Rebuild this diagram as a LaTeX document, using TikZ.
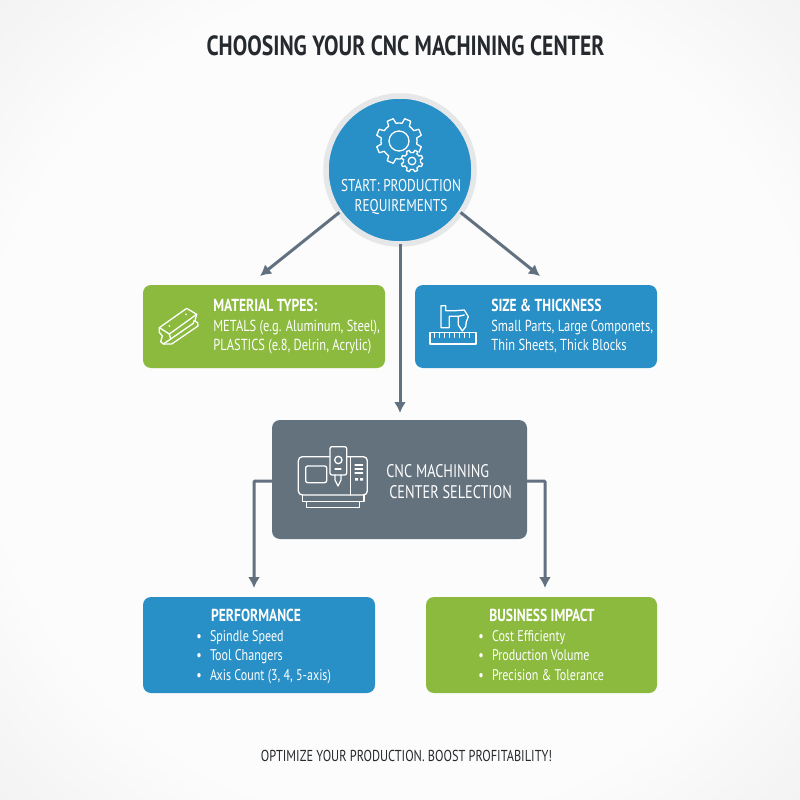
\documentclass[tikz,border=0pt]{standalone}
\usepackage{fontspec}
\setmainfont[FakeStretch=0.78]{PT Sans}
\usetikzlibrary{arrows.meta}
\def\px{0.02cm}
\definecolor{cncblue}{RGB}{40,143,199}
\definecolor{cncgreen}{RGB}{139,186,62}
\definecolor{cncgray}{RGB}{100,114,126}
\definecolor{cncline}{RGB}{98,113,127}
\definecolor{cncring}{RGB}{230,231,232}
\definecolor{cncink}{RGB}{38,42,46}
\pgfdeclareradialshading{pagebg}{\pgfpoint{0cm}{0cm}}{color(0cm)=(black!1);color(0.9cm)=(black!1);color(1.45cm)=(black!7)}
\tikzset{
  cardbox/.style={rounded corners=8*\px,outer sep=0pt,inner sep=0pt},
  bluebox/.style={cardbox,fill=cncblue},
  greenbox/.style={cardbox,fill=cncgreen},
  graybox/.style={cardbox,fill=cncgray},
  flowline/.style={draw=cncline,line width=3*\px,-{Latex[length=11*\px,width=12*\px]}},
  elbowline/.style={flowline,rounded corners=1*\px},
  iconline/.style={draw=white,line width=1.3*\px,line join=round,line cap=round},
  cardtext/.style={text=white,inner sep=0pt,font=\fontsize{9.1}{10.7}\selectfont,align=left},
  listtext/.style={text=white,inner sep=0pt,font=\fontsize{8.8}{11.1}\selectfont,align=left},
  cardhead/.style={text=white,inner sep=0pt,font=\fontsize{9.9}{12}\selectfont\bfseries},
}
% gear outline: cx, cy, outer radius, root radius, hole radius, teeth
\newcommand{\gearicon}[6]{
  \pgfmathsetmacro{\gearstep}{360/#6}
  \fill[cncblue] (#1,#2) circle ({#3});
  \draw[iconline] (#1,#2) ++(0:#4)
    \foreach \tooth in {1,...,#6}{
      -- ({#1+#4*cos((\tooth-1)*\gearstep+0.22*\gearstep)},{#2+#4*sin((\tooth-1)*\gearstep+0.22*\gearstep)})
      -- ({#1+#3*cos((\tooth-1)*\gearstep+0.32*\gearstep)},{#2+#3*sin((\tooth-1)*\gearstep+0.32*\gearstep)})
      -- ({#1+#3*cos((\tooth-1)*\gearstep+0.68*\gearstep)},{#2+#3*sin((\tooth-1)*\gearstep+0.68*\gearstep)})
      -- ({#1+#4*cos((\tooth-1)*\gearstep+0.78*\gearstep)},{#2+#4*sin((\tooth-1)*\gearstep+0.78*\gearstep)})
      -- ({#1+#4*cos(\tooth*\gearstep)},{#2+#4*sin(\tooth*\gearstep)})
    } -- cycle;
  \draw[iconline] (#1,#2) circle ({#5});
}
\begin{document}
\begin{tikzpicture}[x=0.02cm,y=-0.02cm]
\shade[shading=pagebg] (0,0) rectangle (800,800);
\useasboundingbox (0,0) rectangle (800,800);

% title and footer
\node[inner sep=0pt,text=cncink,font=\fontsize{15.8}{18}\selectfont\bfseries] (title) at (405.5,46) {CHOOSING YOUR CNC MACHINING CENTER};
\node[inner sep=0pt,text=cncink,font=\fontsize{9}{12}\selectfont] (footer) at (406.5,756) {OPTIMIZE YOUR PRODUCTION. BOOST PROFITABILITY!};

% start circle
\node[circle,fill=cncblue,draw=cncring,line width=5.5*\px,minimum size=148*\px,inner sep=0pt,outer sep=0pt] (start) at (400,170) {};
\gearicon{399}{141}{23}{18}{10}{8}
\gearicon{412}{161}{11}{8.5}{3.8}{8}
\node[inner sep=0pt,text=white,align=center,font=\fontsize{9.7}{11.4}\selectfont] (starttext) at (401,197) {START: PRODUCTION\\REQUIREMENTS};

% cards
\node[greenbox,minimum width=242*\px,minimum height=83*\px] (material) at (264,326.5) {};
\node[bluebox,minimum width=242*\px,minimum height=83*\px] (sizebox) at (536,326.5) {};
\node[graybox,minimum width=255*\px,minimum height=119*\px] (center) at (399.5,479.5) {};
\node[bluebox,minimum width=232*\px,minimum height=96*\px] (perf) at (259,645) {};
\node[greenbox,minimum width=231*\px,minimum height=96*\px] (business) at (541.5,645) {};

% card texts
\node[cardhead,anchor=west] (materialhead) at (213,305) {MATERIAL TYPES:};
\node[cardtext,anchor=north west] (materialtext) at (213,320) {METALS (e.g. Aluminum, Steel),\\PLASTICS (e.8, Delrin, Acrylic)};
\node[cardhead,anchor=west] (sizehead) at (491,305) {SIZE \& THICKNESS};
\node[cardtext,anchor=north west] (sizetext) at (491,319.5) {Small Parts, Large Componets,\\Thin Sheets, Thick Blocks};
\node[inner sep=0pt,text=white,align=left,anchor=west,font=\fontsize{10.4}{11.6}\selectfont] (centertext) at (386,481.5) {CNC MACHINING\\\hspace*{0.06cm}CENTER SELECTION};
\node[cardhead] (perfhead) at (256,615) {PERFORMANCE};
\node[listtext,anchor=north west] (perftext) at (196,630) {\textbullet\hspace{0.1cm} Spindle Speed\\\textbullet\hspace{0.1cm} Tool Changers\\\textbullet\hspace{0.1cm} Axis Count (3, 4, 5-axis)};
\node[cardhead] (busihead) at (542,615) {BUSINESS IMPACT};
\node[listtext,anchor=north west] (busitext) at (478,630) {\textbullet\hspace{0.1cm} Cost Efficienty\\\textbullet\hspace{0.1cm} Production Volume\\\textbullet\hspace{0.1cm} Precision \& Tolerance};

% connectors
\coordinate (materialtop) at (260,276);
\coordinate (sizetop) at (540,276);
\coordinate (centertop) at (400,413);
\coordinate (perftop) at (254,588);
\coordinate (busitop) at (545,588);
\draw[flowline] (start.215) -- (materialtop);
\draw[flowline] (start.325) -- (sizetop);
\draw[flowline] (start.south) -- (centertop);
\draw[elbowline] (center.west |- 0,481) -| (perftop);
\draw[elbowline] (center.east |- 0,481) -| (busitop);

% beam icon
\begin{scope}[shift={(130,275)},scale=1/3]
\draw[iconline] (88,158) -- (170,100) -- (200,118) -- (118,177) -- cycle;
\draw[iconline] (118,177) -- (122,192) -- (100,207) -- (92,200) -- (97,183) -- (88,172) -- (88,158);
\draw[iconline] (122,192) -- (190,145) -- (192,137) -- (203,143) -- (204,153) -- (125,207) -- (100,207);
\draw[iconline] (200,118) -- (195,137);
\fill[white] (118,153) circle (3) (168,118) circle (3);
\end{scope}

% machine and ruler icon
\begin{scope}[shift={(405,275)},scale=1/3]
\draw[iconline] (75,172) rectangle (213,207);
\foreach \tick in {88,103,...,200}{
  \draw[iconline] (\tick,175) -- (\tick,187);
}
\draw[iconline] (108,92) -- (108,158) -- (133,158) -- (133,124) -- (160,124) -- (160,150) -- (172,168) -- (182,155) -- (184,140) -- (190,125) -- (178,105) -- (152,107) -- (122,107) -- (122,92) -- cycle;
\draw[iconline] (160,124) -- (178,120);
\end{scope}

% machining center icon
\begin{scope}[shift={(240,410)},scale=1/3]
\draw[iconline,rounded corners=4*\px] (270,140) -- (175,140) -- (175,255) -- (382,255) -- (382,140) -- (320,140);
\draw[iconline,rounded corners=2*\px] (197,168) rectangle (260,218);
\draw[iconline,rounded corners=2*\px] (270,110) rectangle (320,195);
\draw[iconline] (295,150) circle (11);
\draw[iconline] (285,177) -- (303,177);
\draw[iconline] (285,195) -- (285,210) -- (294,228) -- (303,210) -- (303,195);
\draw[iconline] (332,140) -- (332,255);
\foreach \bar in {165,177,189}{
  \draw[iconline] (345,\bar) -- (368,\bar);
}
\fill[white] (345,204) rectangle (354,212) (360,204) rectangle (369,212);
\draw[iconline] (187,255) -- (187,275) -- (372,275) -- (372,255);
\draw[iconline] (200,275) -- (200,293) -- (358,293) -- (358,275);
\end{scope}
\end{tikzpicture}
\end{document}
